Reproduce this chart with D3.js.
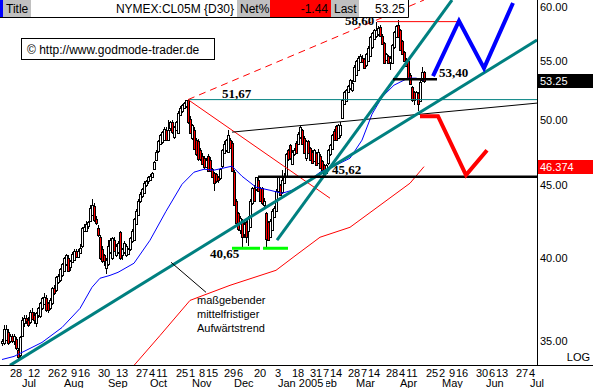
<!DOCTYPE html>
<html>
<head>
<meta charset="utf-8">
<script src="https://cdn.jsdelivr.net/npm/d3@7/dist/d3.min.js"></script>
<style>
	body { margin: 0; background: #fff; }
	svg text { font-family: "Liberation Sans", Arial, sans-serif; }
	.lbl { font-family: "Liberation Serif", "Times New Roman", serif !important; font-weight: bold; font-size: 13px; }
</style>
</head>
<body>
<div id="chart"></div>
<script>
let width = 593;
let height = 388;
let plotRight = 537;
let plotBottom = 365;

// trading calendar
let firstDay = "2004-06-17";
let axisEnd = "2005-07-08";
let holidays = ["2004-07-05", "2004-09-06", "2004-11-25", "2004-12-24",
	"2005-01-17", "2005-02-21", "2005-03-25"];

// daily candles NYMEX:CL05M, [open, high, low, close]
let ohlc = [
	[34.9,35.1,34.7,35.0],[34.9,35.9,34.8,35.7],[35.1,35.9,35.0,35.7],[35.5,35.7,34.8,34.9],
	[35.0,35.4,34.9,35.3],[35.3,35.4,34.9,35.0],[35.0,35.4,34.8,35.3],[35.1,35.2,34.5,34.6],
	[34.5,34.6,34.0,34.1],[34.2,35.3,34.0,35.2],[35.3,36.4,35.2,36.2],[36.0,36.5,35.8,36.3],
	[36.3,36.5,36.0,36.1],[36.2,36.4,35.8,35.9],[36.1,36.8,36.0,36.7],[36.7,36.9,36.2,36.3],
	[36.5,36.7,36.0,36.2],[36.0,36.7,35.8,36.6],[36.5,37.0,36.3,36.9],[36.4,37.3,36.3,37.2],
	[36.9,37.6,36.8,37.5],[37.2,37.8,37.1,37.6],[37.5,37.7,36.7,36.8],[37.2,37.3,36.6,36.8],
	[36.9,37.5,36.8,37.4],[37.2,38.2,37.1,38.1],[38.1,38.3,37.7,37.8],[38.0,38.9,37.9,38.8],
	[38.5,39.0,38.4,38.9],[38.6,39.4,38.5,39.3],[38.9,39.7,38.8,39.6],[39.2,40.1,39.1,40.0],
	[39.6,40.3,39.5,40.2],[40.0,40.2,39.1,39.2],[39.4,39.9,39.2,39.8],[39.8,40.4,39.7,40.3],
	[39.9,40.6,39.8,40.5],[40.5,40.6,40.0,40.1],[40.1,40.6,40.0,40.5],[40.4,40.9,40.3,40.7],
	[40.8,42.1,40.7,42.0],[41.8,42.3,41.7,42.1],[41.8,42.5,41.7,42.3],[42.1,42.5,41.9,42.4],
	[42.5,43.6,42.4,43.4],[42.9,44.0,42.8,43.6],[43.5,43.7,42.4,42.5],[42.6,42.8,42.2,42.3],
	[42.0,42.2,41.4,41.5],[41.4,41.5,39.9,40.0],[40.6,40.8,39.7,39.8],[40.2,40.3,39.5,39.8],
	[39.4,40.0,39.0,39.9],[39.6,41.2,39.5,40.8],[40.4,41.3,40.3,41.2],[40.0,41.4,39.9,41.3],
	[41.2,41.4,40.4,40.5],[40.2,40.9,40.1,40.8],[40.4,41.1,40.3,41.0],[41.7,41.8,39.9,40.0],
	[40.2,40.7,39.9,40.6],[40.4,41.1,40.3,41.0],[40.2,40.9,40.1,40.8],[40.3,40.7,40.2,40.6],
	[40.6,41.4,40.5,41.3],[41.1,41.9,41.0,41.8],[41.2,42.7,41.1,42.6],[42.3,43.3,42.2,43.2],
	[42.9,44.0,42.8,43.9],[43.9,44.5,43.7,44.4],[44.2,44.8,44.1,44.7],[44.5,45.3,44.4,45.2],
	[45.0,45.4,44.9,45.3],[45.3,45.7,45.1,45.6],[45.4,45.8,45.3,45.7],[45.6,46.0,45.5,45.9],
	[46.2,46.8,46.1,46.7],[46.9,47.6,46.8,47.5],[47.5,48.4,47.4,48.3],[48.1,48.9,48.0,48.8],
	[48.2,49.1,48.1,49.0],[48.4,49.4,48.3,49.3],[49.2,49.4,48.3,48.4],[48.4,50.0,48.3,49.2],
	[49.3,49.9,49.1,49.8],[49.8,50.0,48.9,49.0],[48.6,49.5,48.5,49.4],[49.2,49.9,49.1,49.8],
	[49.0,50.7,48.9,50.6],[50.4,51.1,50.3,51.0],[50.7,51.3,50.6,51.2],[51.0,51.5,50.9,51.4],
	[51.1,51.67,51.0,51.6],[51.6,51.67,49.7,49.8],[50.1,50.3,48.9,49.0],[48.6,49.7,48.4,49.6],
	[49.2,49.4,47.6,47.7],[48.4,48.6,47.2,47.3],[48.3,48.5,46.8,46.9],[47.6,47.8,46.8,46.9],
	[47.2,47.4,46.5,46.6],[47.0,47.2,46.2,46.3],[46.4,47.0,46.3,46.9],[47.2,47.3,46.0,46.1],
	[46.9,47.1,46.0,46.1],[46.2,46.3,45.5,45.6],[45.9,46.0,44.6,45.2],[45.8,45.9,45.2,45.3],
	[45.6,45.7,45.2,45.4],[45.5,46.3,45.4,46.2],[46.4,47.7,46.3,47.6],[47.4,48.3,47.3,48.1],
	[47.6,48.5,47.5,48.4],[47.5,49.2,47.4,48.8],[48.4,48.6,47.7,47.8],[48.2,48.3,46.0,46.1],
	[46.0,46.1,43.5,43.6],[43.9,44.0,42.3,42.4],[43.0,43.1,41.8,41.9],[41.9,42.8,41.6,42.7],
	[42.5,42.6,40.65,41.4],[41.6,42.4,41.3,42.3],[42.4,42.5,41.0,41.4],[41.8,42.8,40.8,42.7],
	[42.1,44.0,42.0,43.9],[43.7,44.9,43.6,44.8],[44.8,45.0,43.8,43.9],[44.7,45.62,44.6,45.6],
	[45.4,45.5,44.5,44.6],[44.8,44.9,43.8,43.9],[44.8,44.9,43.6,43.7],[43.6,44.1,43.4,43.9],
	[43.0,43.1,40.7,41.2],[42.4,42.5,41.1,41.2],[41.4,42.6,41.3,42.5],[41.9,43.3,41.8,43.2],
	[42.8,43.5,42.7,43.4],[43.2,44.7,43.1,44.6],[44.6,45.7,44.5,45.6],[45.0,45.1,44.2,44.3],
	[44.5,46.1,44.4,45.4],[45.2,45.9,45.1,45.7],[45.6,47.4,45.5,47.3],[47.6,47.7,46.8,46.9],
	[48.0,48.1,46.9,47.0],[46.6,47.6,46.5,47.5],[47.3,47.8,47.2,47.6],[48.2,48.3,47.3,47.4],
	[48.1,49.0,48.0,48.9],[48.6,49.6,48.5,49.4],[49.2,49.3,48.0,48.1],[48.6,48.7,47.3,47.4],
	[47.0,48.4,46.8,48.3],[48.3,48.4,47.3,47.4],[47.8,47.9,46.8,46.9],[47.5,47.6,46.6,46.7],
	[46.8,47.7,46.7,47.6],[47.4,47.5,46.4,46.5],[46.7,47.7,46.6,47.5],[47.2,47.3,46.2,46.3],
	[46.8,46.9,45.9,46.1],[46.5,46.6,45.5,45.7],[45.9,46.6,45.8,46.5],[46.6,47.7,46.5,47.6],
	[47.3,48.1,47.2,48.0],[47.7,48.9,47.6,48.8],[49.1,49.3,48.3,48.4],[49.5,49.6,48.3,48.4],
	[48.6,49.7,48.5,49.6],[48.8,49.8,48.6,49.6],[50.1,51.7,50.1,51.6],[51.3,52.4,51.2,52.3],
	[51.6,52.6,51.5,52.5],[52.3,52.9,52.2,52.8],[52.6,53.4,52.5,53.3],[52.5,53.3,52.3,53.1],
	[53.3,54.6,53.2,54.5],[53.8,55.1,53.7,55.0],[54.2,55.4,54.1,55.3],[54.9,55.6,54.8,55.4],
	[55.3,55.5,54.8,54.9],[55.2,55.3,54.3,54.4],[54.6,55.7,54.5,55.6],[55.0,56.3,54.9,56.2],
	[55.5,57.3,55.4,57.2],[56.2,57.6,56.1,57.5],[57.0,57.9,56.9,57.8],[57.2,58.6,57.1,57.8],
	[57.4,58.2,57.3,58.0],[58.1,58.3,57.2,57.3],[57.3,57.4,56.5,56.6],[56.6,56.7,54.7,54.8],
	[55.1,55.7,55.0,55.6],[55.4,55.5,54.7,54.8],[54.9,55.4,54.2,55.3],[54.8,56.5,54.7,56.4],
	[56.2,57.7,56.1,57.6],[57.2,58.3,57.1,58.2],[58.3,58.75,57.1,57.2],[57.8,57.9,55.9,56.0],
	[56.8,56.9,55.5,55.6],[55.8,55.9,54.9,55.0],[55.2,55.3,54.5,54.6],[55.0,55.1,53.4,53.5],
	[53.8,53.9,52.9,53.0],[52.7,52.8,51.5,51.6],[52.3,52.4,51.2,51.6],[51.7,52.4,51.6,52.3],
	[52.2,52.3,50.7,51.3],[51.6,53.3,51.5,53.2],[53.3,54.5,53.2,54.0],[54.0,54.1,53.1,53.25]
];

// moving averages, [day index, value]
let maBlue = [[0,33.97],[6,34.14],[20,34.92],[30,35.77],[39,36.89],[45,38.17],[49,38.73],
	[54,38.91],[58,39.10],[66,39.68],[74,41.18],[82,43.15],[90,45.07],[96,45.96],[101,46.18],
	[106,46.11],[115,46.41],[120,45.66],[127,44.86],[134,44.64],[140,44.42],[145,44.64],
	[154,45.37],[159,45.96],[165,46.33],[174,47.01],[180,48.40],[185,50.47],[190,51.88],
	[196,52.89],[203,53.49],[207,53.49],[211,53.32]];
let maRed = [[64,33.4],[79,35.31],[94,37.37],[114,38.29],[137,39.23],[147,40.20],[159,41.38],
	[174,42.05],[189,43.57],[204,45.15],[211,46.374]];

// drawn lines, [day index, price]
let trendMain = [[4, 33.65], [267.5, 56.88]];
let trendSteep = [[137.5, 41.18], [225, 60.68]];
let level5167 = [[93, 51.67], [267.5, 51.67]];
let channelTop = [[93, 51.67], [211, 60.68]];
let downLine = [[93, 51.67], [164, 44.07]];
let topLine = [[115, 49.03], [267.5, 51.38]];
let level5860 = [[187.5, 58.60], [228, 58.60]];
let level5340 = [[195.5, 53.40], [217.5, 53.40]];
let level4562 = [[128, 45.62], [267.5, 45.62]];
let lowMarks = [[[115, 40.65], [129, 40.65]], [[130.5, 40.65], [143, 40.65]]];
let leader = [[84.5, 39.74], [102, 37.86]];
let upPath = [[215.5, 53.66], [228.5, 58.66], [241, 54.36], [255.5, 60.39]];
let downPath = [[209, 50.31], [218, 50.31], [232, 45.74], [242.5, 47.62]];

let priceTicks = [35, 40, 45, 50, 55, 60];
let dayTicks = ["2004-06-28","2004-07-12","2004-07-26","2004-08-02","2004-08-09","2004-08-16",
	"2004-08-30","2004-09-13","2004-09-27","2004-10-04","2004-10-11","2004-10-25","2004-11-01",
	"2004-11-08","2004-11-15","2004-11-29","2004-12-06","2004-12-20","2005-01-03","2005-01-18",
	"2005-01-31","2005-02-07","2005-02-14","2005-02-28","2005-03-07","2005-03-14","2005-03-28",
	"2005-04-04","2005-04-11","2005-04-25","2005-05-02","2005-05-09","2005-05-16","2005-05-30",
	"2005-06-06","2005-06-13","2005-06-27","2005-07-04"];
let monthKeys = ["2004-07","2004-08","2004-09","2004-10","2004-11","2004-12","2005-01",
	"2005-02","2005-03","2005-04","2005-05","2005-06","2005-07"];
let monthNames = ["Jul","Aug","Sep","Oct","Nov","Dec","Jan 2005","Feb","Mar","Apr","May","Jun","Jul"];

let lastClose = 53.25;
let lastRed = 46.374;
let netPct = "-1.44";



let fmt = d3.utcFormat("%Y-%m-%d");
let dates = d3.utcDays(new Date(firstDay + "T00:00Z"), new Date(axisEnd + "T12:00Z"))
	.filter(d => d.getUTCDay() !== 0 && d.getUTCDay() !== 6)
	.map(fmt)
	.filter(d => !holidays.includes(d));

let candles = ohlc.map((r, i) => ({ i: i, o: r[0], h: r[1], l: r[2], c: r[3] }));

let x = d3.scaleLinear()
	.domain([0, dates.length - 1])
	.range([2, 2 + 2 * (dates.length - 1)]);
let y = d3.scaleLog()
	.domain([35, 60])
	.range([341, 7]);

let svg = d3.select("#chart")
	.append("svg")
		.attr("width", width)
		.attr("height", height)
	;

svg.append("defs")
	.append("clipPath")
		.attr("id", "plot")
	.append("rect")
		.attr("width", plotRight)
		.attr("height", plotBottom)
	;

let plot = svg.append("g").attr("clip-path", "url(#plot)");

let line = d3.line()
	.x(d => x(d[0]))
	.y(d => y(d[1]));

function drawLine(pts, color, w, dash) {
	plot.append("path")
		.attr("d", line(pts))
		.attr("fill", "none")
		.attr("stroke", color)
		.attr("stroke-width", w)
		.attr("stroke-dasharray", dash || null)
		;
}

// candles: wicks then bodies
plot.append("g")
	.selectAll("line")
	.data(candles)
	.join("line")
		.attr("x1", d => Math.round(x(d.i)) + 0.5)
		.attr("x2", d => Math.round(x(d.i)) + 0.5)
		.attr("y1", d => y(d.h))
		.attr("y2", d => y(d.l))
		.attr("stroke", "#000")
		.attr("shape-rendering", "crispEdges")
	;
plot.append("g")
	.selectAll("rect")
	.data(candles)
	.join("rect")
		.attr("x", d => Math.round(x(d.i)) - 0.5)
		.attr("width", 2)
		.attr("y", d => Math.round(y(Math.max(d.o, d.c))) + 0.5)
		.attr("height", d => Math.max(1, Math.round(Math.abs(y(d.o) - y(d.c)))))
		.attr("fill", d => d.c >= d.o ? "#fff" : "#f00")
		.attr("stroke", "#000")
		.attr("shape-rendering", "crispEdges")
	;

// moving averages
drawLine(maBlue, "#0000ff", 1);
drawLine(maRed, "#ff0000", 1);

// analysis lines
drawLine(level5167, "#008080", 1);
drawLine(channelTop, "#ff0000", 1, "7,5");
drawLine(downLine, "#ff0000", 1);
drawLine(topLine, "#000", 1);
drawLine(level5860, "#ff0000", 1);
drawLine(trendMain, "#008080", 3);
drawLine(trendSteep, "#008080", 3);
drawLine(level4562, "#000", 2.5);
drawLine(level5340, "#000", 2.5);
lowMarks.forEach(seg => drawLine(seg, "#00ff00", 3));
drawLine(leader, "#000", 1);
drawLine(upPath, "#0000ff", 4);
drawLine(downPath, "#ff0000", 4);

// level labels
let levelLabels = [
	{ t: "58,60", i: 171.5, p: 58.60, dy: 3 },
	{ t: "51,67", i: 110, p: 51.67, dy: -2 },
	{ t: "45,62", i: 165, p: 45.62, dy: -3 },
	{ t: "40,65", i: 104, p: 40.65, dy: 10 },
	{ t: "53,40", i: 218.5, p: 53.40, dy: -2 }
];
svg.append("g")
	.selectAll("text")
	.data(levelLabels)
	.join("text")
		.attr("class", "lbl")
		.attr("x", d => x(d.i))
		.attr("y", d => y(d.p) + d.dy)
		.text(d => d.t)
	;

// trend caption
let caption = ["maßgebender", "mittelfristiger", "Aufwärtstrend"];
svg.append("g")
	.selectAll("text")
	.data(caption)
	.join("text")
		.attr("x", 197)
		.attr("y", (d, k) => 304 + k * 14)
		.style("font-size", "11px")
		.text(d => d)
	;

// copyright box
svg.append("rect")
	.attr("x", 21.5).attr("y", 38.5)
	.attr("width", 193).attr("height", 21)
	.attr("fill", "#fff").attr("stroke", "#000");
svg.append("text")
	.attr("x", 27).attr("y", 54)
	.style("font-size", "12px")
	.text("\u00a9 http://www.godmode-trader.de");

// axes frame
svg.append("line")
	.attr("x1", plotRight + 0.5).attr("x2", plotRight + 0.5)
	.attr("y1", 0).attr("y2", plotBottom)
	.attr("stroke", "#000");
svg.append("line")
	.attr("x1", 0).attr("x2", width)
	.attr("y1", plotBottom + 0.5).attr("y2", plotBottom + 0.5)
	.attr("stroke", "#000");

// price axis
svg.append("g")
	.selectAll("text")
	.data(priceTicks)
	.join("text")
		.attr("x", 540)
		.attr("y", d => y(d))
		.attr("dy", "0.36em")
		.style("font-size", "11px")
		.text(d => d3.format(".2f")(d))
	;
let tags = [
	{ v: lastClose, bg: "#000", t: d3.format(".2f")(lastClose) },
	{ v: lastRed, bg: "#f00", t: String(lastRed) }
];
tags.forEach(tg => {
	svg.append("rect")
		.attr("x", 538).attr("y", Math.round(y(tg.v)) - 7)
		.attr("width", 55).attr("height", 14)
		.attr("fill", tg.bg);
	svg.append("text")
		.attr("x", 540).attr("y", y(tg.v))
		.attr("dy", "0.36em")
		.attr("fill", "#fff")
		.style("font-size", "11px")
		.text(tg.t);
});
svg.append("text")
	.attr("x", 590).attr("y", 361)
	.attr("text-anchor", "end")
	.style("font-size", "11px")
	.text("LOG");

// date axis
svg.append("g")
	.selectAll("text")
	.data(dayTicks)
	.join("text")
		.attr("x", d => x(dates.indexOf(d)))
		.attr("y", 377)
		.attr("text-anchor", "middle")
		.style("font-size", "11px")
		.text(d => +d.slice(8))
	;
let months = monthKeys.map((m, k) => ({ idx: dates.findIndex(d => d.startsWith(m)), t: monthNames[k] }));
let mg = svg.append("g")
	.selectAll("g")
	.data(months.slice().reverse())
	.join("g")
		.attr("transform", d => `translate(${x(d.idx)},0)`)
	;
mg.append("rect")
	.attr("y", 379).attr("height", 9)
	.attr("width", d => d.t.length * 6)
	.attr("fill", "#fff");
mg.append("text")
	.attr("y", 387)
	.style("font-size", "11px")
	.text(d => d.t);

// title bar
let bar = svg.append("g");
bar.append("rect").attr("x", 0).attr("y", 0).attr("width", 408).attr("height", 17).attr("fill", "#fff");
bar.append("rect").attr("x", 0).attr("y", 0).attr("width", 3).attr("height", 17).attr("fill", "#0000ff");
bar.append("rect").attr("x", 3).attr("y", 0).attr("width", 28).attr("height", 17).attr("fill", "#c0c0c0");
bar.append("rect").attr("x", 237).attr("y", 0).attr("width", 33).attr("height", 17).attr("fill", "#c0c0c0");
bar.append("rect").attr("x", 270).attr("y", 0).attr("width", 61).attr("height", 17).attr("fill", "#ff0000");
bar.append("rect").attr("x", 331).attr("y", 0).attr("width", 28).attr("height", 17).attr("fill", "#c0c0c0");
bar.append("path").attr("d", "M0,17.5H408.5V0").attr("fill", "none").attr("stroke", "#000");
let barText = [
	{ x: 6, a: "start", t: "Title" },
	{ x: 234, a: "end", t: "NYMEX:CL05M {D30}" },
	{ x: 240, a: "start", t: "Net%" },
	{ x: 328, a: "end", t: netPct },
	{ x: 334, a: "start", t: "Last" },
	{ x: 405, a: "end", t: d3.format(".2f")(lastClose) }
];
bar.selectAll("text")
	.data(barText)
	.join("text")
		.attr("x", d => d.x)
		.attr("y", 13)
		.attr("text-anchor", d => d.a)
		.style("font-size", "12px")
		.text(d => d.t)
	;
</script>
</body>
</html>
